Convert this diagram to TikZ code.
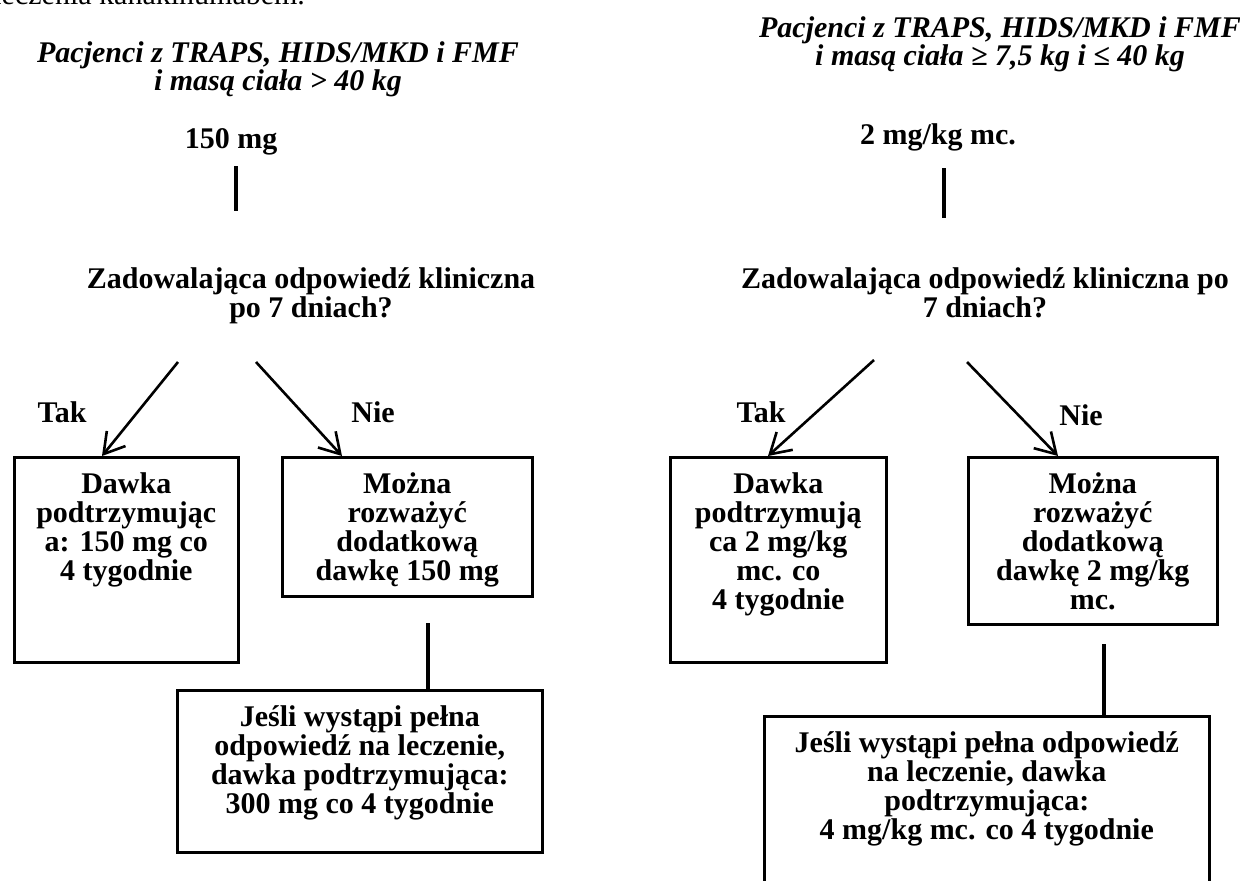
\documentclass[tikz,border=0pt]{standalone}
\usepackage{fontspec}
\setmainfont{Liberation Serif}
\usetikzlibrary{arrows.meta}
\tikzset{
	lbl/.style={font=\fontsize{15}{14.5}\selectfont\bfseries, inner sep=0pt, anchor=north, align=center,
		execute at begin node={\rule{0pt}{12pt}}},
	title/.style={lbl, font=\fontsize{15}{14}\selectfont\bfseries\itshape},
	box/.style={draw, line width=1.3pt, inner sep=0pt, anchor=north west,
		font=\fontsize{15}{14.5}\selectfont\bfseries},
	arr/.style={line width=1.3pt, -{Straight Barb[length=10pt, width=12pt]}},
	bar/.style={line width=2pt}
}
\newcommand{\dosebox}[6] % name, left x, top y, width, height (px), text
{
	\node[box] (#1) at (#2,#3)
		{\parbox[c][\dimexpr #5pt/2\relax][t]{\dimexpr #4pt/2\relax}{\centering\rule{0pt}{18pt}#6}};
}

\begin{document}
\begin{tikzpicture}[x=0.5pt, y=-0.5pt]
	% page 1240 x 880 px, y runs downwards
	\useasboundingbox (0,0) rectangle (1240,880);
	\fill[white] (0,0) rectangle (1240,880);
	\node[anchor=base west, inner sep=0pt, font=\fontsize{15}{14.5}\selectfont] (intro) at (-7,4) {leczenia kanakinumabem.};

	% left: body weight > 40 kg
	\node[title] (titleL) at (278,41) {Pacjenci z TRAPS, HIDS/MKD i FMF\\i masą ciała > 40 kg};
	\node[lbl] (doseL) at (231,124) {150 mg};
	\coordinate (barLa) at (236,166);
	\coordinate (barLb) at (236,211);
	\draw[bar] (barLa) -- (barLb);
	\node[lbl] (askL) at (311,267) {Zadowalająca odpowiedź kliniczna\\po 7 dniach?};

	\dosebox{keepL}{13}{456}{224}{205}{Dawka\\podtrzymując\\a: 150 mg co\\4 tygodnie};
	\dosebox{moreL}{281}{456}{250}{139}{Można\\rozważyć\\dodatkową\\dawkę 150 mg};
	\dosebox{fullL}{176}{689}{365}{162}{Jeśli wystąpi pełna\\odpowiedź na leczenie,\\dawka podtrzymująca:\\300 mg co 4 tygodnie};

	\coordinate (yesLa) at (178,362);
	\coordinate (yesLb) at (102,456);
	\coordinate (noLa) at (256,362);
	\coordinate (noLb) at (342,456);
	\draw[arr] (yesLa) -- (yesLb);
	\draw[arr] (noLa) -- (noLb);
	\node[lbl] (takL) at (62,398) {Tak};
	\node[lbl] (nieL) at (373,398) {Nie};

	\coordinate (barL2) at (428,623);
	\draw[bar] (barL2) -- (barL2 |- fullL.north);

	% right: body weight 7,5 - 40 kg
	\node[title] (titleR) at (1000,16) {Pacjenci z TRAPS, HIDS/MKD i FMF\\i masą ciała ≥ 7,5 kg i ≤ 40 kg};
	\node[lbl] (doseR) at (938,120) {2 mg/kg mc.};
	\coordinate (barRa) at (944,168);
	\coordinate (barRb) at (944,218);
	\draw[bar] (barRa) -- (barRb);
	\node[lbl] (askR) at (985,267) {Zadowalająca odpowiedź kliniczna po\\7 dniach?};

	\dosebox{keepR}{669}{456}{216}{205}{Dawka\\podtrzymują\\ca 2 mg/kg\\mc. co\\4 tygodnie};
	\dosebox{moreR}{967}{456}{249}{167}{Można\\rozważyć\\dodatkową\\dawkę 2 mg/kg\\mc.};
	\dosebox{fullR}{763}{715}{445}{200}{Jeśli wystąpi pełna odpowiedź\\na leczenie, dawka\\podtrzymująca:\\4 mg/kg mc. co 4 tygodnie};

	\coordinate (yesRa) at (874,360);
	\coordinate (yesRb) at (768,456);
	\coordinate (noRa) at (967,362);
	\coordinate (noRb) at (1058,456);
	\draw[arr] (yesRa) -- (yesRb);
	\draw[arr] (noRa) -- (noRb);
	\node[lbl] (takR) at (761,398) {Tak};
	\node[lbl] (nieR) at (1081,401) {Nie};

	\coordinate (barR2) at (1104,644);
	\draw[bar] (barR2) -- (barR2 |- fullR.north);
\end{tikzpicture}
\end{document}
